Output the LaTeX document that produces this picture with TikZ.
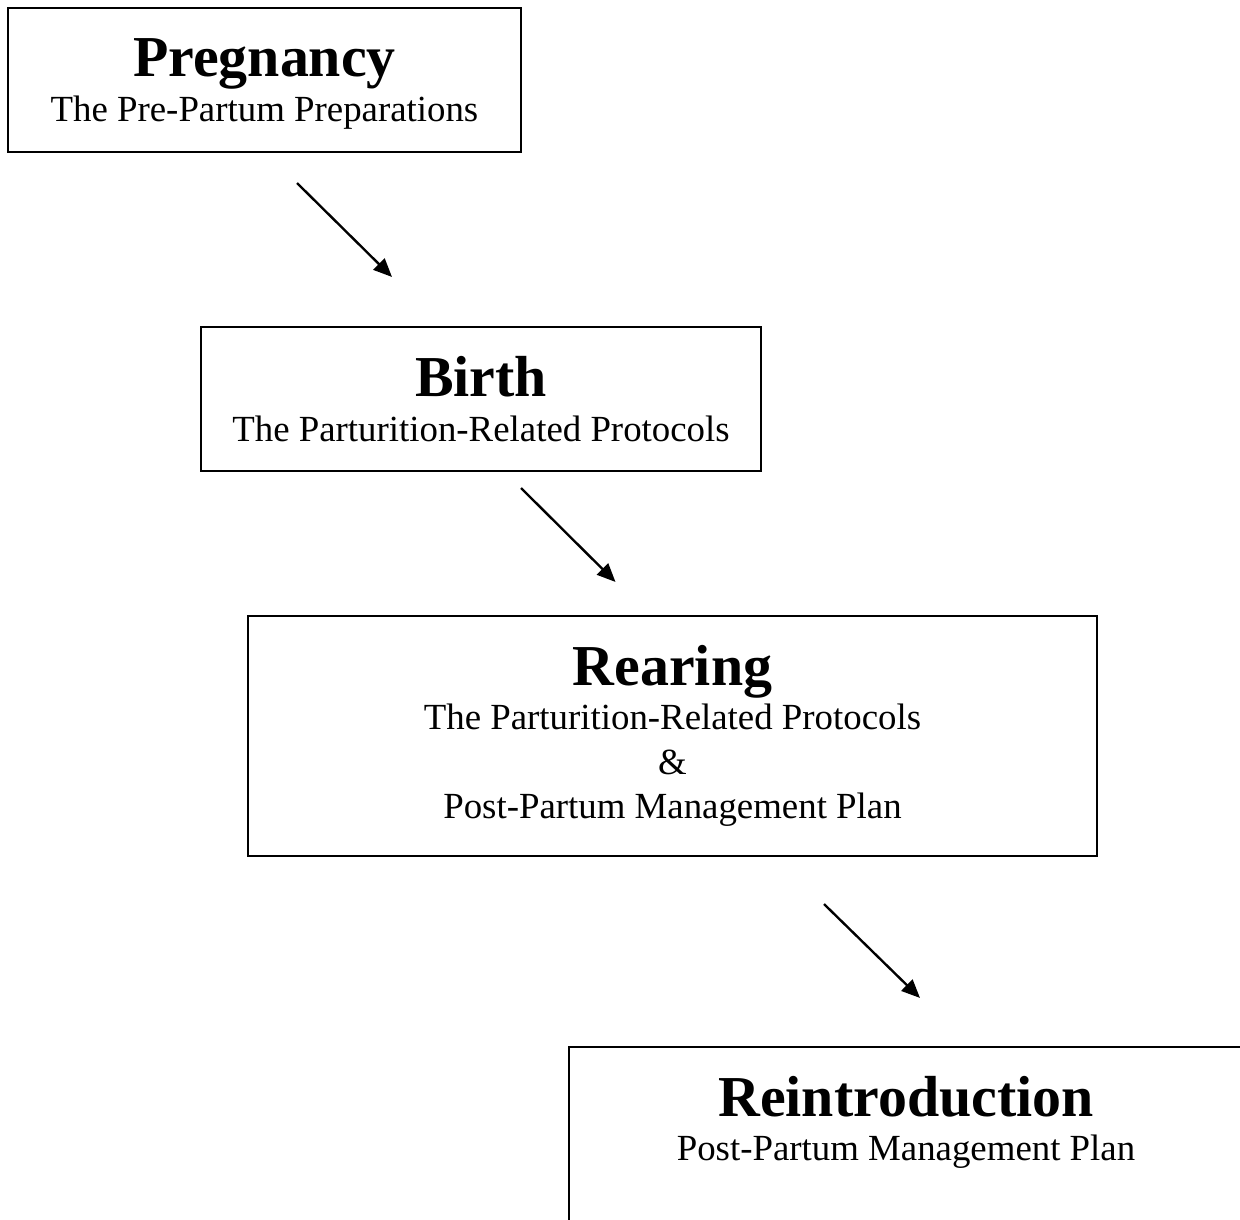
\documentclass[tikz,border=0pt]{standalone}
\usepackage{fontspec}
\setmainfont{Liberation Serif}
\usetikzlibrary{positioning, calc, arrows.meta}

\begin{document}
\begin{tikzpicture}[x=0.38pt, y=-0.38pt,
		stage/.style={draw, line width=0.8pt, align=center, font=\fontsize{14pt}{16.9pt}\selectfont},
		flow/.style={line width=0.9pt, -{Triangle[length=7pt, width=6pt]}}]
			\clip (0,0) rectangle (1240,1220);
			\node (n1) [stage, minimum width=194.9pt, minimum height=54.7pt] at (264.5,80) {{\fontsize{22pt}{26pt}\selectfont\bfseries Pregnancy}\\\raisebox{0pt}[\height][0pt]{The Pre-Partum Preparations}};
			\node (n2) [stage, minimum width=212.8pt, minimum height=54.7pt] at (481,399) {{\fontsize{22pt}{26pt}\selectfont\bfseries Birth}\\The Parturition-Related Protocols};
			\node (n3) [stage, minimum width=322.6pt, minimum height=91.2pt] at (672.5,736) {{\fontsize{22pt}{26pt}\selectfont\bfseries Rearing}\\The Parturition-Related Protocols\\\&\\Post-Partum Management Plan};
			\node (n4) [stage, minimum width=256.1pt, minimum height=91.2pt] at (906,1167) {{\fontsize{22pt}{26pt}\selectfont\bfseries Reintroduction}\\Post-Partum Management Plan\rule[-37pt]{0pt}{37pt}};
			
			\draw [flow] ($(n1.south)+(32.5,30)$) -- ($(n2.north)+(-89,-49)$);
			\draw [flow] ($(n2.south)+(40,16)$) -- ($(n3.north)+(-57,-33)$);
			\draw [flow] ($(n3.south)+(151.5,47)$) -- ($(n4.north)+(14,-48)$);
		\end{tikzpicture}
\end{document}
